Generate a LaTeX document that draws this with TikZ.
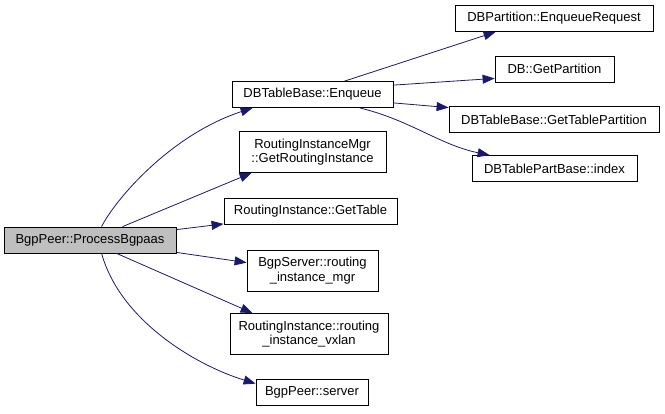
\documentclass[tikz,border=0pt]{standalone}
\usepackage{fontspec}
\setmainfont{Liberation Sans}
\usetikzlibrary{arrows.meta,calc}
\definecolor{edgeblue}{HTML}{191970}
\definecolor{rootgray}{HTML}{BFBFBF}
\begin{document}
\begin{tikzpicture}[x=1pt,y=-1pt,
  box/.style={draw=black, line width=0.8pt, fill=white, inner sep=0pt, align=center,
              font=\fontsize{13}{14.5}\selectfont, minimum height=26pt},
  box2/.style={box, minimum height=41pt},
  call/.style={draw=edgeblue, line width=0.8pt, -{Triangle[length=12pt,width=9pt]}}
]
\useasboundingbox (0,0) rectangle (665,413);

% nodes
\node[box, fill=rootgray, minimum width=172pt] (root) at (90,240) {BgpPeer::ProcessBgpaas};
\node[box, minimum width=161pt] (enq) at (312.5,94.5) {DBTableBase::Enqueue};
\node[box2, minimum width=147pt] (rim) at (312.5,152) {RoutingInstanceMgr\\::GetRoutingInstance};
\node[box, minimum width=173pt] (gt) at (310.5,211.5) {RoutingInstance::GetTable};
\node[box2, minimum width=131pt] (rimgr) at (312.5,270.5) {BgpServer::routing\\\_instance\_mgr};
\node[box2, minimum width=158pt] (vx) at (309,334) {RoutingInstance::routing\\\_instance\_vxlan};
\node[box, minimum width=112pt] (srv) at (312,392) {BgpPeer::server};
\node[box, minimum width=198pt] (eqr) at (554,18.5) {DBPartition::EnqueueRequest};
\node[box, minimum width=119pt] (gp) at (554.5,69) {DB::GetPartition};
\node[box, minimum width=210pt] (gtp) at (554,119.5) {DBTableBase::GetTablePartition};
\node[box, minimum width=165pt] (idx) at (554.5,168.5) {DBTablePartBase::index};

% edges from root
\draw[call] ($(root.north west)+(98,0)$) .. controls (115,200) and (170,135) .. ($(enq.south west)+(21,0)$);
\draw[call] ($(root.north west)+(119,0)$) -- ($(rim.south west)+(13,0)$);
\draw[call] ($(root.north east)+(0,3)$) -- ($(gt.south west)+(0,-1)$);
\draw[call] ($(root.south east)+(0,-1)$) -- ($(rimgr.north west)+(0,13)$);
\draw[call] ($(root.south west)+(113,0)$) -- ($(vx.north west)+(23,0)$);
\draw[call] ($(root.south west)+(98,0)$) .. controls (120,320) and (195,365) .. ($(srv.north west)+(0,5)$);

% edges from Enqueue
\draw[call] ($(enq.north west)+(113,0)$) -- ($(eqr.south west)+(41,0)$);
\draw[call] ($(enq.north east)+(0,4)$) -- ($(gp.south west)+(0,-4)$);
\draw[call] ($(enq.south east)+(0,-5)$) -- ($(gtp.north west)+(0,1.5)$);
\draw[call] ($(enq.south west)+(128,0)$) .. controls (410,120) and (440,145) .. ($(idx.north west)+(18,0)$);
\end{tikzpicture}
\end{document}
